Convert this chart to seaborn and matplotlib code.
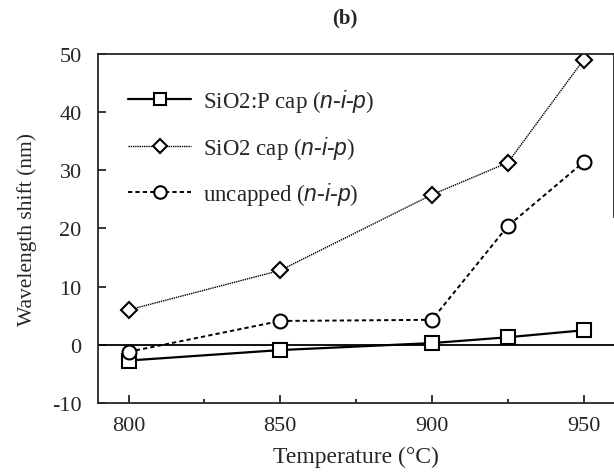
import matplotlib
matplotlib.use("Agg")
import matplotlib.pyplot as plt
import seaborn as sns
import pandas as pd
from matplotlib.ticker import MultipleLocator

temps = [800, 850, 900, 925, 950]
sio2p = [-2.7, -0.9, 0.3, 1.3, 2.5]
sio2 = [6.0, 12.8, 25.8, 31.3, 49.0]
uncapped = [-1.2, 4.1, 4.3, 20.4, 31.4]
labels = ["SiO2:P cap ($\\it{n}$-$\\it{i}$-$\\it{p}$)",
          "SiO2 cap ($\\it{n}$-$\\it{i}$-$\\it{p}$)",
          "uncapped ($\\it{n}$-$\\it{i}$-$\\it{p}$)"]

sns.set_style("ticks")
plt.rcParams['font.family'] = ['Liberation Serif', 'DejaVu Serif']
plt.rcParams['mathtext.fontset'] = 'custom'
plt.rcParams['mathtext.rm'] = 'Liberation Serif'
plt.rcParams['mathtext.it'] = 'Liberation Sans:italic'
plt.rcParams['axes.unicode_minus'] = False

fig = plt.figure(figsize=(6.14, 4.77), dpi=100)
ax = fig.add_axes([0.16, 0.153, 0.84, 0.732])

styles = [
    dict(marker='s', markersize=9.5, linestyle='-', linewidth=1.6),
    dict(marker='D', markersize=8, linestyle=(0, (1, 0.6)), linewidth=1.0),
    dict(marker='o', markersize=10, linestyle=(0, (2.2, 1.6)), linewidth=1.4),
]
for vals, lab, st in zip([sio2p, sio2, uncapped], labels, styles):
    df = pd.DataFrame({"T": temps, "shift": vals})
    sns.lineplot(data=df, x="T", y="shift", ax=ax, color='black',
                 markerfacecolor='white', markeredgecolor='black',
                 markeredgewidth=1.5, label=lab, **st)

ax.axhline(0, color='black', linewidth=1.3, zorder=1)
ax.set_xlim(790, 960)
ax.set_ylim(-10, 50)
ax.xaxis.set_major_locator(MultipleLocator(50))
ax.xaxis.set_minor_locator(MultipleLocator(25))
ax.yaxis.set_major_locator(MultipleLocator(10))
ax.tick_params(direction='in', which='both', labelsize=16, width=1.3)
ax.tick_params(which='major', length=6)
ax.tick_params(which='minor', length=3)
ax.tick_params(axis='x', pad=9)
ax.tick_params(axis='y', pad=12)
for s in ['left', 'bottom', 'top', 'right']:
    ax.spines[s].set_linewidth(1.3)
ax.spines['right'].set_bounds(22, 50)

ax.set_xlabel("Temperature (°C)", fontsize=17, labelpad=8)
ax.set_ylabel("Wavelength shift (nm)", fontsize=15.5, labelpad=11)
fig.text(0.562, 0.962, "(b)", fontsize=15, fontweight='bold', ha='center', va='center')

leg = ax.legend(loc='upper left', frameon=False, fontsize=16.5,
                handlelength=2.75, handletextpad=0.5, labelspacing=0.85,
                borderaxespad=0.0, bbox_to_anchor=(0.04, 0.93))
for h in leg.legend_handles:
    h.set_markersize(h.get_markersize() * 0.9)

fig.savefig("out.png", dpi=100)
